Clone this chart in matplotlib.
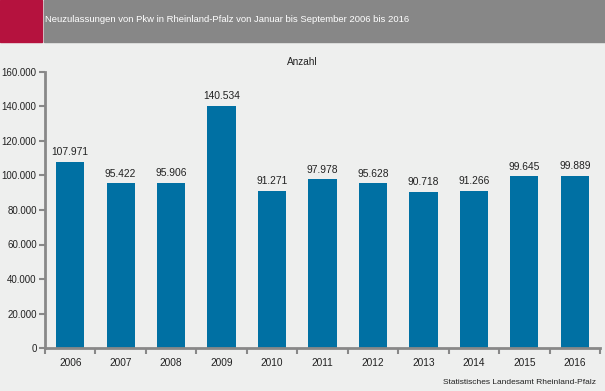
import matplotlib
matplotlib.use("Agg")
from matplotlib import pyplot as plt
from matplotlib.patches import Rectangle

# data
years = ["2006", "2007", "2008", "2009", "2010", "2011", "2012", "2013", "2014", "2015", "2016"]
anzahl = [107971, 95422, 95906, 140534, 91271, 97978, 95628, 90718, 91266, 99645, 99889]
y_ticks = [0, 20000, 40000, 60000, 80000, 100000, 120000, 140000, 160000]

def de_fmt(v):
    return f"{v:,.0f}".replace(",", ".")

plt.rcParams['font.family'] = ['Liberation Sans', 'DejaVu Sans']
bg = '#EEEFEE'
spine = '#888888'
txt = '#222222'

fig = plt.figure(figsize=(6.05, 3.91), dpi=100, facecolor=bg)

# header band
fig.patches.append(Rectangle((0, 1 - 42/391), 42/605, 42/391, transform=fig.transFigure,
                             color='#B5123E', zorder=0))
fig.patches.append(Rectangle((44/605, 1 - 42/391), 1, 42/391, transform=fig.transFigure,
                             color='#878787', zorder=0))
fig.text(45/605, 1 - 19/391, "Neuzulassungen von Pkw in Rheinland-Pfalz von Januar bis September 2006 bis 2016",
         color='white', fontsize=6.8, va='center', ha='left')

ax = fig.add_axes([45/605, 1 - 348/391, 555/605, (348 - 72)/391])
ax.set_facecolor(bg)

x = range(len(years))
ax.bar(x, anzahl, width=0.56, color='#0070A3', zorder=2)
for xi, v in zip(x, anzahl):
    ax.text(xi, v + 2500, de_fmt(v), ha='center', va='bottom', fontsize=7.4, color=txt)

ax.set_xlim(-0.5, len(years) - 0.5)
ax.set_ylim(0, 160000)
ax.set_yticks(y_ticks)
ax.set_yticklabels([de_fmt(v) for v in y_ticks], fontsize=7, color=txt)

# category labels centred, tick marks on boundaries
ax.set_xticks(list(x))
ax.set_xticklabels(years, fontsize=7.3, color=txt)
ax.tick_params(axis='x', length=0, pad=7)
ax.set_xticks([i - 0.5 for i in range(len(years) + 1)], minor=True)
ax.tick_params(axis='x', which='minor', length=4, width=1.5, color=spine)
ax.tick_params(axis='y', length=4, width=1.5, color=spine, pad=2)

for s in ['top', 'right']:
    ax.spines[s].set_visible(False)
for s in ['left', 'bottom']:
    ax.spines[s].set_color(spine)
    ax.spines[s].set_linewidth(2)

fig.text(302/605, 1 - 62/391, "Anzahl", fontsize=7.2, ha='center', va='center', color=txt)
fig.text(596/605, 1 - 382/391, "Statistisches Landesamt Rheinland-Pfalz", fontsize=6,
         ha='right', va='center', color=txt)

fig.savefig("out.png", dpi=100, facecolor=bg)
